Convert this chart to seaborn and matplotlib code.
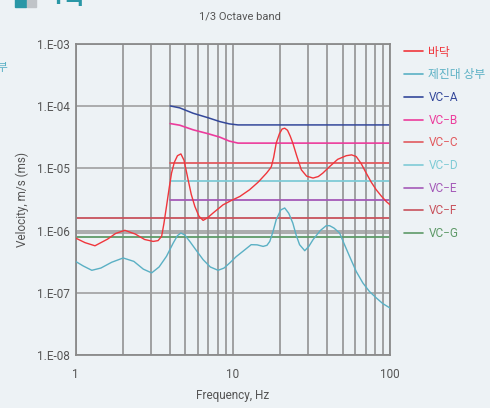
import numpy as np
import pandas as pd
import matplotlib.pyplot as plt
import matplotlib.ticker as mticker
from matplotlib.patches import Rectangle
import seaborn as sns

# floor (바닥) and isolation table top (제진대 상부)
floor_f = [1.0, 1.15, 1.33, 1.6, 1.8, 2.06, 2.4, 2.75, 3.12, 3.35, 3.53, 3.65, 3.79, 3.95, 4.08,
           4.25, 4.45, 4.68, 4.9, 5.2, 5.45, 5.74, 6.1, 6.48, 6.9, 7.5, 8.68, 9.8, 11.1, 12.8,
           14.5, 16.4, 17.2, 17.6, 18.2, 18.9, 19.8, 20.6, 21.4, 22.3, 23.2, 24.1, 25.5, 27.3,
           29.5, 32.4, 35.0, 37.4, 41.3, 46.5, 52.7, 57.0, 61.0, 65.5, 70.6, 76.0, 81.7, 88.0,
           94.6, 100.0]
floor_v = [7.6e-7, 6.4e-7, 5.7e-7, 7.3e-7, 9.0e-7, 1.01e-6, 8.8e-7, 7.2e-7, 6.7e-7, 6.9e-7,
           8.1e-7, 1.3e-6, 2.45e-6, 5.0e-6, 8.4e-6, 1.25e-5, 1.6e-5, 1.71e-5, 1.35e-5, 6.6e-6,
           3.8e-6, 2.45e-6, 1.7e-6, 1.46e-6, 1.6e-6, 1.92e-6, 2.6e-6, 3.05e-6, 3.54e-6, 4.54e-6,
           6.0e-6, 8.4e-6, 9.8e-6, 1.07e-5, 1.5e-5, 2.55e-5, 3.6e-5, 4.3e-5, 4.43e-5, 4.1e-5,
           3.3e-5, 2.55e-5, 1.6e-5, 9.5e-6, 7.5e-6, 7.0e-6, 7.4e-6, 8.4e-6, 1.07e-5, 1.4e-5,
           1.6e-5, 1.65e-5, 1.55e-5, 1.2e-5, 8.4e-6, 6.0e-6, 4.54e-6, 3.6e-6, 2.94e-6, 2.6e-6]

table_f = [1.0, 1.12, 1.27, 1.45, 1.7, 2.01, 2.35, 2.7, 3.05, 3.4, 3.79, 4.18, 4.45, 4.68, 4.95,
           5.33, 5.9, 6.48, 7.2, 8.07, 8.8, 9.57, 10.5, 11.6, 13.1, 14.3, 15.6, 16.5, 17.2, 18.0,
           18.9, 20.2, 21.4, 22.7, 24.1, 25.3, 26.6, 28.7, 30.5, 32.4, 36.0, 39.3, 41.3, 44.0,
           47.8, 51.0, 55.3, 61.0, 67.2, 74.0, 81.7, 90.0, 100.0]
table_v = [3.2e-7, 2.7e-7, 2.3e-7, 2.5e-7, 3.1e-7, 3.63e-7, 3.2e-7, 2.4e-7, 2.09e-7, 2.6e-7,
           3.86e-7, 6.3e-7, 8.3e-7, 9.15e-7, 8.5e-7, 6.7e-7, 4.7e-7, 3.41e-7, 2.6e-7, 2.3e-7,
           2.5e-7, 3.02e-7, 3.8e-7, 4.64e-7, 5.94e-7, 5.9e-7, 5.57e-7, 5.8e-7, 6.7e-7, 9.5e-7,
           1.5e-6, 2.15e-6, 2.31e-6, 1.9e-6, 1.32e-6, 8.5e-7, 5.94e-7, 4.75e-7, 5.6e-7, 7.15e-7,
           1.0e-6, 1.2e-6, 1.2e-6, 1.1e-6, 9.15e-7, 6.2e-7, 3.86e-7, 2.2e-7, 1.44e-7, 1.05e-7,
           8.3e-8, 6.7e-8, 5.7e-8]

# vibration criteria curves
vca_f = [4.0, 4.6, 5.6, 7.0, 8.27, 9.5, 10.8, 100.0]
vca_v = [1.01e-4, 9.4e-5, 7.7e-5, 6.5e-5, 5.66e-5, 5.2e-5, 5.0e-5, 5.0e-5]
vcb_f = [4.0, 4.6, 5.6, 7.0, 8.27, 9.5, 10.8, 100.0]
vcb_v = [5.26e-5, 4.95e-5, 4.17e-5, 3.6e-5, 3.18e-5, 2.75e-5, 2.55e-5, 2.55e-5]
vcc_f, vcc_v = [4.0, 100.0], [1.2e-5, 1.2e-5]
vcd_f, vcd_v = [4.0, 100.0], [6.25e-6, 6.25e-6]
vce_f, vce_v = [4.0, 100.0], [3.12e-6, 3.12e-6]
vcf_f, vcf_v = [1.0, 100.0], [1.6e-6, 1.6e-6]
vcg_f, vcg_v = [1.0, 100.0], [7.8e-7, 7.8e-7]

y_ticks = [1e-8, 1e-7, 1e-6, 1e-5, 1e-4, 1e-3]
y_labels = ["1.E-08", "1.E-07", "1.E-06", "1.E-05", "1.E-04", "1.E-03"]
x_ticks = [1, 10, 100]
x_labels = ["1", "10", "100"]
extra_grid = [9.2e-7]

bg = "#edf2f5"
sns.set_theme(style="white")
plt.rcParams["font.family"] = ["Roboto", "Noto Sans CJK KR", "DejaVu Sans"]

fig = plt.figure(figsize=(4.9, 4.08), dpi=100, facecolor=bg)
ax = fig.add_axes([75.5 / 490, 1 - 355 / 408, (390 - 75.5) / 490, (355 - 44) / 408])
ax.set_facecolor(bg)

series = [
    ("바닥", floor_f, floor_v, "#f0363c", 1.0),
    ("제진대 상부", table_f, table_v, "#5ab0c4", 1.0),
    ("VC−A", vca_f, vca_v, "#34489a", 1.1),
    ("VC−B", vcb_f, vcb_v, "#ec3c9c", 1.2),
    ("VC−C", vcc_f, vcc_v, "#e25a5e", 1.3),
    ("VC−D", vcd_f, vcd_v, "#7fcbd6", 1.3),
    ("VC−E", vce_f, vce_v, "#a45ab8", 1.3),
    ("VC−F", vcf_f, vcf_v, "#c8525c", 1.3),
    ("VC−G", vcg_f, vcg_v, "#5e9a68", 1.3),
]

grid_c = "#8a8a8a"
for yv in y_ticks + extra_grid:
    ax.axhline(yv, color="#999999", lw=1.1, zorder=1)

handles = []
for name, f, v, c, lw in series:
    df = pd.DataFrame({"f": f, "v": v})
    sns.lineplot(data=df, x="f", y="v", ax=ax, color=c, lw=lw, sort=False,
                 estimator=None, zorder=3 if name in ("바닥", "제진대 상부") else 2)
    handles.append(plt.Line2D([], [], color=c, lw=1.2, label=name))

ax.set_xscale("log")
ax.set_yscale("log")
ax.set_xlim(1, 100)
ax.set_ylim(1e-8, 1e-3)
ax.xaxis.set_major_locator(mticker.FixedLocator(x_ticks))
ax.xaxis.set_major_formatter(mticker.FixedFormatter(x_labels))
ax.xaxis.set_minor_locator(mticker.LogLocator(base=10, subs=np.arange(2, 10)))
ax.xaxis.set_minor_formatter(mticker.NullFormatter())
ax.yaxis.set_major_locator(mticker.FixedLocator(y_ticks))
ax.yaxis.set_major_formatter(mticker.FixedFormatter(y_labels))
ax.yaxis.set_minor_locator(mticker.NullLocator())
ax.grid(False)
ax.grid(True, which="both", axis="x", color=grid_c, lw=1.1, zorder=1)
ax.set_axisbelow(True)
ax.tick_params(axis="both", which="both", length=0, labelsize=8.5, colors="#555555")
ax.tick_params(axis="x", pad=9)
ax.tick_params(axis="y", pad=4)
for s in ax.spines.values():
    s.set_color("#8a8a8a")
    s.set_linewidth(1.3)

ax.set_xlabel("Frequency, Hz", fontsize=8.5, color="#555555", labelpad=6)
ax.set_ylabel("Velocity, m/s (ms)", fontsize=8.5, color="#555555", labelpad=6)
fig.text(240 / 490, 1 - 16 / 408, "1/3 Octave band", ha="center", va="center",
         fontsize=8, color="#555555")

leg = fig.legend(handles=handles, loc="upper left", bbox_to_anchor=(393 / 490, 1 - 35 / 408),
                 frameon=False, fontsize=8.5, handlelength=1.6, handletextpad=0.5,
                 labelspacing=0.82, labelcolor="linecolor")

# cropped heading and neighbouring chart remnants
fig.patches.append(Rectangle((15 / 490, 1 - 7 / 408), 11 / 490, 9 / 408,
                             transform=fig.transFigure, color="#2a97a6", figure=fig))
fig.patches.append(Rectangle((27 / 490, 1 - 7 / 408), 9 / 490, 9 / 408,
                             transform=fig.transFigure, color="#c0c4c8", figure=fig))
fig.text(50 / 490, 1 + 2 / 408, "1특", ha="left", va="center", fontsize=17,
         fontweight="bold", color="#2a97a6")
fig.text(-4 / 490, 1 - 68 / 408, "부", ha="left", va="center", fontsize=8.5, color="#5ab0c4")

fig.savefig("out.png", dpi=100, facecolor=bg)
